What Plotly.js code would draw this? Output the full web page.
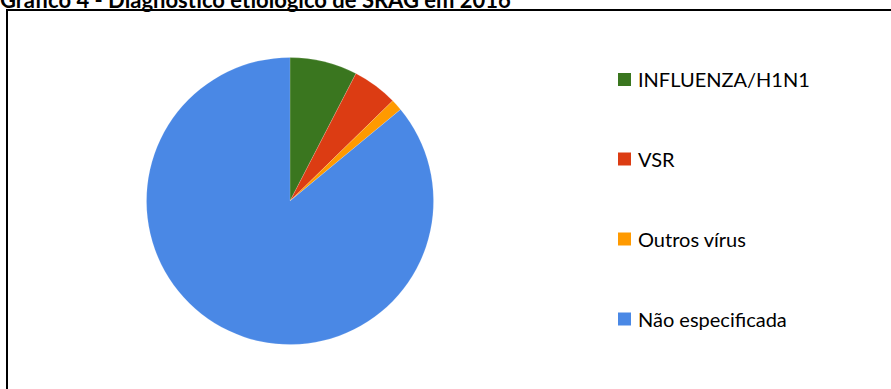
<!DOCTYPE html>
<html>
<head>
<meta charset="utf-8">
<script src="https://cdn.plot.ly/plotly-3.0.1.min.js"></script>
<style>html,body{margin:0;padding:0;background:#fff;overflow:hidden;}#chart{width:891px;height:389px;}</style>
</head>
<body>
<div id="chart"></div>
<script>
const categories = ["INFLUENZA/H1N1", "VSR", "Outros vírus", "Não especificada"];
const values = [7.6, 5.1, 1.3, 86.0];
const colors = ["#3a761f", "#dc3c13", "#ff9a00", "#4a88e5"];
const titleText = "Gráfico 4 - Diagnóstico etiológico de SRAG em 2016";

const W = 891, H = 389;
const cx = 290, cy = 201, r = 143.5;

const legendY = [79.5, 159, 239, 319];
const shapes = [
  {type: "line", xref: "paper", yref: "paper", x0: 7 / W, x1: 7 / W, y0: 1 - 9 / H, y1: 0,
   line: {color: "#000", width: 2}},
  {type: "line", xref: "paper", yref: "paper", x0: 6 / W, x1: 1, y0: 1 - 10 / H, y1: 1 - 10 / H,
   line: {color: "#000", width: 2}}
];
const annotations = [];
categories.forEach((c, i) => {
  const yc = legendY[i];
  shapes.push({
    type: "rect", xref: "paper", yref: "paper",
    x0: 618 / W, x1: 631 / W, y0: 1 - (yc + 6.5) / H, y1: 1 - (yc - 6.5) / H,
    line: {width: 0}, fillcolor: colors[i]
  });
  annotations.push({
    xref: "paper", yref: "paper", x: 636 / W, y: 1 - yc / H,
    xanchor: "left", yanchor: "middle", showarrow: false,
    text: c, font: {family: "Lato", size: 20, color: "#000"}
  });
});

const data = [{
  type: "pie",
  labels: categories,
  values: values,
  sort: false,
  direction: "clockwise",
  rotation: 0,
  textinfo: "none",
  hoverinfo: "label+percent",
  marker: {colors: colors, line: {color: "rgba(255,255,255,0.3)", width: 0.5}},
  domain: {x: [(cx - r) / W, (cx + r) / W], y: [1 - (cy + r) / H, 1 - (cy - r) / H]},
  showlegend: false
}];

const layout = {
  width: W, height: H,
  margin: {l: 0, r: 0, t: 0, b: 0},
  paper_bgcolor: "#fff",
  title: {
    text: "<b>" + titleText + "</b>",
    x: 0, xref: "paper", xanchor: "left",
    y: 1 - 0 / H, yref: "container", yanchor: "middle",
    font: {family: "Lato", size: 22, color: "#000"}
  },
  shapes: shapes,
  annotations: annotations,
  showlegend: false
};

Plotly.newPlot("chart", data, layout, {displayModeBar: false, staticPlot: true});
</script>
</body>
</html>
